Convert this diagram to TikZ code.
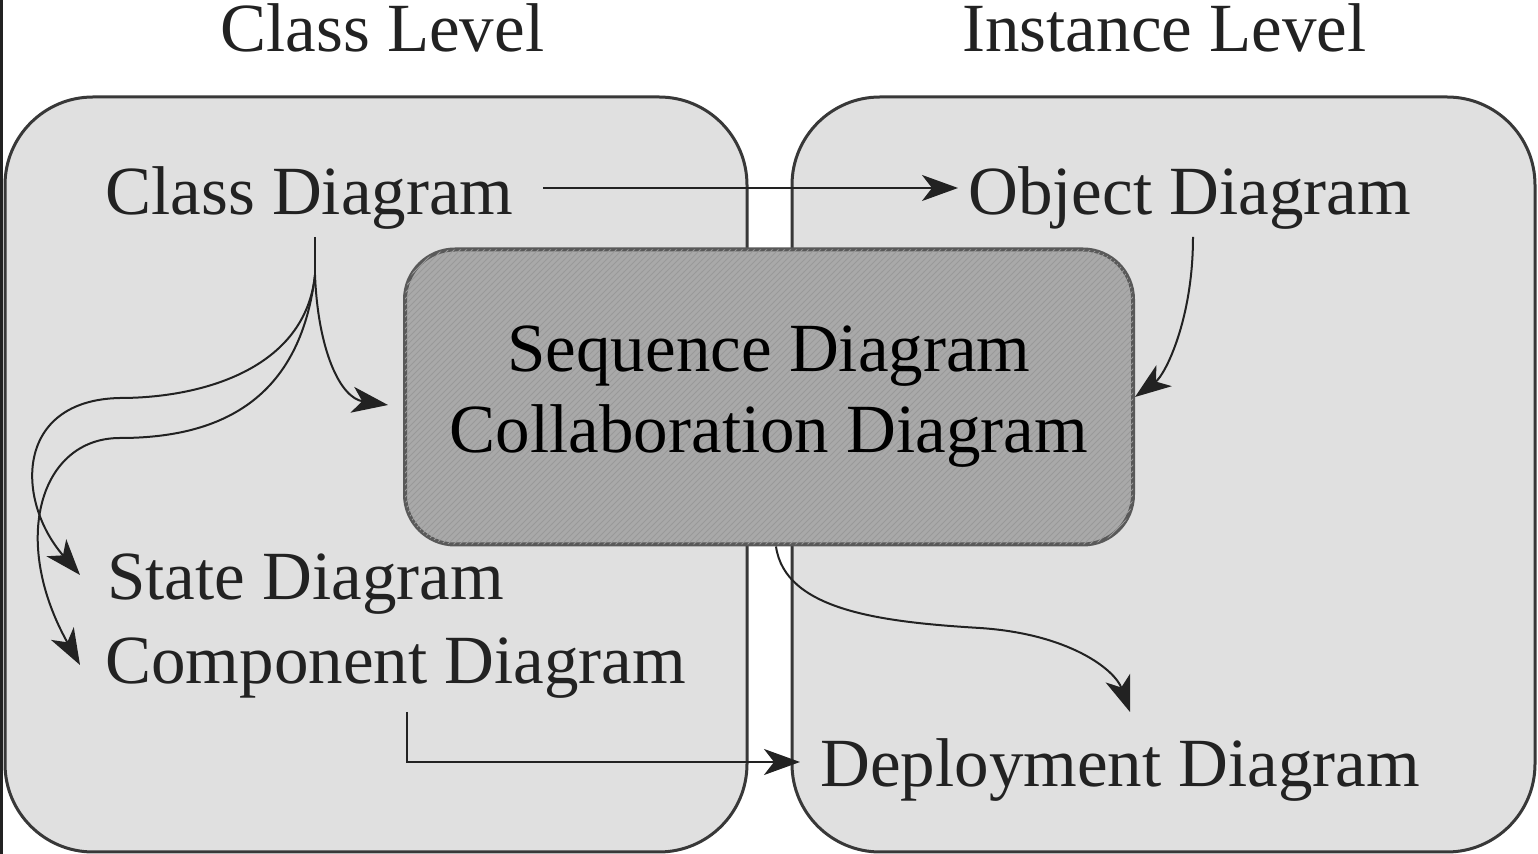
\documentclass[tikz,border=0pt]{standalone}
\usepackage{fontspec}
\setmainfont{Liberation Serif}
\usepackage{tikz}
\usetikzlibrary{positioning}
\usetikzlibrary{patterns}
\usetikzlibrary{arrows.meta}
\usetikzlibrary{calc}
\definecolor{boxfill}{HTML}{E0E0E0}
\definecolor{seqfill}{HTML}{A9A9A9}
\definecolor{ink}{HTML}{222222}
\tikzset{
levelbox/.style={draw=ink!90,fill=boxfill,line width=1.5pt,rounded corners=44pt},
seqbox/.style={draw=black!65,fill=seqfill,line width=2pt,rounded corners=25pt,
  minimum width=364pt,minimum height=147.5pt,align=center,
  postaction={pattern=north east lines,pattern color=black!40}},
lbl/.style={anchor=base west,inner sep=0pt,text=ink},
arr/.style={draw=ink,line width=1pt,-{Stealth[length=18pt,width=13pt,inset=5pt]}},
}
\begin{document}
\begin{tikzpicture}[x=0.5pt,y=-0.5pt,font=\fontsize{34.5}{40.5}\selectfont]
\useasboundingbox (0,0) rectangle (1538,854);
\fill[ink] (0,0) rectangle (3,854);
\draw[levelbox] (5,97) rectangle (747,852);
\draw[levelbox] (792,97) rectangle (1535,852);
\node[lbl] (classl) at (220,52) {Class Level};
\node[lbl] (instl) at (962,52) {Instance Level};
\node[seqbox] (seq) at (769,397) {Sequence Diagram\\Collaboration Diagram};
\node[lbl] (classd) at (105,215) {Class Diagram};
\node[lbl] (objd) at (968,215) {Object Diagram};
\node[lbl] (statd) at (107,600) {State Diagram};
\node[lbl] (compd) at (105,684) {Component Diagram};
\node[lbl] (depd) at (820,787) {Deployment Diagram};
\coordinate (fork) at ($(classd.base west)+(210,60)$);
\draw[arr] ($(classd.base west)+(438,-27)$) -- ($(objd.base west)+(-10,-27)$);
\draw[ink,line width=1pt] ($(classd.base west)+(210,22)$) -- (fork);
\draw[arr] (fork) .. controls (318,350) and (340,398) .. ($(seq.west)+(-15,8)$);
\draw[arr] (fork) .. controls (305,370) and (200,398) .. (120,398) .. controls (15,400) and (15,500) .. ($(statd.base west)+(-27,-25)$);
\draw[arr] (fork) .. controls (300,400) and (220,438) .. (120,438) .. controls (40,438) and (10,540) .. ($(compd.base west)+(-25,-19)$);
\draw[arr] ($(objd.base west)+(225,22)$) .. controls (1193,320) and (1165,375) .. (seq.east);
\draw[arr] ($(seq.south)+(7,0)$) .. controls (785,610) and (880,622) .. (980,628) .. controls (1070,634) and (1115,670) .. ($(depd.base west)+(310,-75)$);
\draw[arr] ($(compd.base west)+(302,28)$) |- ($(depd.base west)+(-20,-25)$);
\end{tikzpicture}
\end{document}
